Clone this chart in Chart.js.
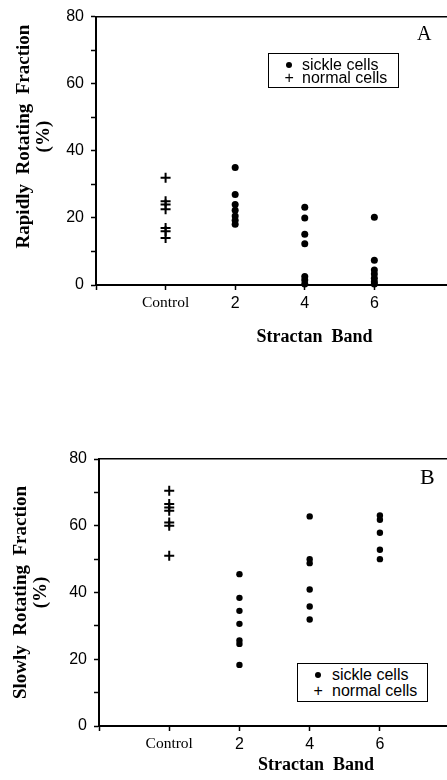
<!DOCTYPE html>
<html>
<head>
<meta charset="utf-8">
<script src="https://cdn.jsdelivr.net/npm/chart.js@4.4.1/dist/chart.umd.min.js"></script>
<style>
  html, body {
    margin: 0;
    padding: 0;
    width: 447px;
    height: 780px;
    overflow: hidden;
    background: #fff;
  }
  .panel {
    position: absolute;
    left: 0;
    width: 540px;
  }
  .panel canvas {
    position: absolute;
    left: 0;
    top: 0;
  }
  .tag {
    position: absolute;
    font-family: "Liberation Serif", serif;
    line-height: 1;
    color: #000;
  }
  .legend {
    position: absolute;
    box-sizing: border-box;
    border: 1.5px solid #000;
    background: #fff;
    font-family: "Liberation Sans", sans-serif;
    font-size: 16px;
    line-height: 16px;
    color: #000;
  }
  .legend .row {
    position: absolute;
    left: 0;
    white-space: nowrap;
  }
  .legend .dot {
    position: absolute;
    width: 6px;
    height: 6px;
    border-radius: 50%;
    background: #000;
  }
  .legend .plus {
    position: absolute;
  }
  .legend .label {
    position: absolute;
  }
</style>
</head>
<body>

<div class="panel" style="top:0px;height:352px">
  <canvas id="chartA" width="540" height="352"></canvas>
  <div class="tag" style="left:417px;top:23px;font-size:20px">A</div>
  <div class="legend" id="legendA" style="left:268px;top:53px;width:131px;height:35px"></div>
</div>

<div class="panel" style="top:430px;height:350px">
  <canvas id="chartB" width="540" height="350"></canvas>
  <div class="tag" style="left:420px;top:36px;font-size:22px">B</div>
  <div class="legend" id="legendB" style="left:297px;top:233px;width:131px;height:39px"></div>
</div>

<script>
// =====================================================
// DATA
// =====================================================

const categories = ["Control", "2", "4", "6"];

const yTickLabels = [0, 20, 40, 60, 80];

// A - rapidly rotating fraction (%)
const rapidNormalControl = [32, 25, 24, 22.6, 17, 16, 14];
const rapidSickleBand2 = [35, 27, 24, 22.3, 20.6, 19.3, 18.1];
const rapidSickleBand4 = [23.2, 20, 15.1, 12.3, 2.5, 1.5, 0.3];
const rapidSickleBand6 = [20.2, 7.4, 4.5, 3.3, 2, 1, 0.3];

// B - slowly rotating fraction (%)
const slowNormalControl = [70.5, 66.5, 65.5, 64.5, 61, 60, 51];
const slowSickleBand2 = [45.5, 38.4, 34.5, 30.6, 25.6, 24.6, 18.3];
const slowSickleBand4 = [62.8, 50, 48.8, 40.9, 35.8, 31.9];
const slowSickleBand6 = [63.1, 61.8, 57.9, 52.8, 50];

const sickleLabel = "sickle cells";
const normalLabel = "normal cells";

// =====================================================
// HELPERS
// =====================================================

// category index -> x position (Control = 1, 2 = 2, 4 = 3, 6 = 4)
function toPoints(values, category) {
  const x = categories.indexOf(category) + 1;
  return values.map(v => ({ x: x, y: v }));
}

const sansFont = { family: "'Liberation Sans', Arial, sans-serif", size: 16 };
const serifFont = { family: "'Liberation Serif', 'Times New Roman', serif", size: 15.5 };

// =====================================================
// CHART
// =====================================================

function createPanelChart(id, opts) {

  return new Chart(
    document.getElementById(id),
    {
      type: "scatter",

      data: {
        datasets: [
          {
            label: sickleLabel,
            data: opts.sickle,
            pointStyle: "circle",
            pointRadius: opts.dotRadius,
            backgroundColor: "#000",
            borderColor: "#000",
            borderWidth: 0,
            clip: false
          },
          {
            label: normalLabel,
            data: opts.normal,
            pointStyle: "cross",
            pointRadius: 5,
            borderColor: "#000",
            borderWidth: 2,
            clip: false
          }
        ]
      },

      options: {
        responsive: false,
        animation: false,
        devicePixelRatio: 1,

        layout: {
          padding: { top: opts.top, right: opts.right, left: 0, bottom: 0 }
        },

        plugins: {
          legend: { display: false },
          tooltip: { enabled: false }
        },

        scales: {
          x: {
            type: "linear",
            position: "bottom",
            min: 0,
            max: opts.xMax,
            afterBuildTicks: s => {
              s.ticks = [0, 1, 2, 3, 4].map(v => ({ value: v }));
            },
            afterFit: s => { s.height = opts.xHeight; },
            grid: {
              drawOnChartArea: false,
              drawTicks: true,
              tickLength: 5,
              tickWidth: 1.5,
              tickColor: "#000"
            },
            border: { display: true, color: "#000", width: 2 },
            ticks: {
              color: "#000",
              padding: 4,
              autoSkip: false,
              maxRotation: 0,
              callback: v => (v >= 1 && v <= categories.length) ? categories[v - 1] : "",
              font: ctx => (ctx.tick && ctx.tick.value === 1) ? serifFont : sansFont
            },
            title: {
              display: true,
              text: "Stractan  Band",
              color: "#000",
              font: {
                family: "'Liberation Serif', 'Times New Roman', serif",
                size: 18,
                weight: "bold"
              },
              padding: { top: 0, bottom: opts.xTitlePad }
            }
          },

          xTop: {
            type: "linear",
            position: "top",
            min: 0,
            max: opts.xMax,
            afterFit: s => { s.height = 0; },
            grid: { drawOnChartArea: false, drawTicks: false },
            ticks: { display: false },
            border: { display: true, color: "#000", width: 1.5 }
          },

          y: {
            min: 0,
            max: 80,
            afterFit: s => { s.width = opts.yWidth; },
            grid: {
              drawOnChartArea: false,
              drawTicks: true,
              tickLength: 5,
              tickWidth: 1.5,
              tickColor: "#000"
            },
            border: { display: true, color: "#000", width: 2 },
            ticks: {
              stepSize: 10,
              color: "#000",
              padding: 7,
              font: sansFont,
              callback: v => yTickLabels.includes(v) ? v : ""
            },
            title: {
              display: true,
              text: opts.yTitle,
              color: "#000",
              font: {
                family: "'Liberation Serif', 'Times New Roman', serif",
                size: 19,
                weight: "bold",
                lineHeight: 1.05
              },
              padding: { top: opts.yTitlePad, bottom: 0 }
            }
          }
        }
      }
    }
  );
}

// =====================================================
// LEGEND
// =====================================================

function buildLegend(id, chart, rows, dotX, textX) {

  const box = document.getElementById(id);

  chart.data.datasets.forEach((ds, i) => {

    const row = document.createElement("div");
    row.className = "row";
    row.style.top = rows[i] + "px";

    if (ds.pointStyle === "circle") {
      const dot = document.createElement("span");
      dot.className = "dot";
      dot.style.left = (dotX - 3) + "px";
      dot.style.top = "5px";
      row.appendChild(dot);
    } else {
      const plus = document.createElement("span");
      plus.className = "plus";
      plus.style.left = (dotX - 4.5) + "px";
      plus.innerText = "+";
      row.appendChild(plus);
    }

    const label = document.createElement("span");
    label.className = "label";
    label.style.left = textX + "px";
    label.innerText = ds.label;
    row.appendChild(label);

    box.appendChild(row);
  });
}

// =====================================================
// START
// =====================================================

const chartA = createPanelChart("chartA", {
  sickle: [
    ...toPoints(rapidSickleBand2, "2"),
    ...toPoints(rapidSickleBand4, "4"),
    ...toPoints(rapidSickleBand6, "6")
  ],
  normal: toPoints(rapidNormalControl, "Control"),
  dotRadius: 3.5,
  top: 16,
  right: 2,
  xMax: 6.28,
  xHeight: 67,
  xTitlePad: 4,
  yWidth: 96,
  yTitle: ["      Rapidly  Rotating  Fraction", "      (%)"],
  yTitlePad: 14
});

const chartB = createPanelChart("chartB", {
  sickle: [
    ...toPoints(slowSickleBand2, "2"),
    ...toPoints(slowSickleBand4, "4"),
    ...toPoints(slowSickleBand6, "6")
  ],
  normal: toPoints(slowNormalControl, "Control"),
  dotRadius: 3.2,
  top: 29,
  right: 5,
  xMax: 6.18,
  xHeight: 54,
  xTitlePad: 4,
  yWidth: 99,
  yTitle: ["Slowly  Rotating  Fraction", "(%)"],
  yTitlePad: 11
});

buildLegend("legendA", chartA, [3, 16], 20, 33);
buildLegend("legendB", chartB, [3, 19], 20, 34);
</script>
</body>
</html>
